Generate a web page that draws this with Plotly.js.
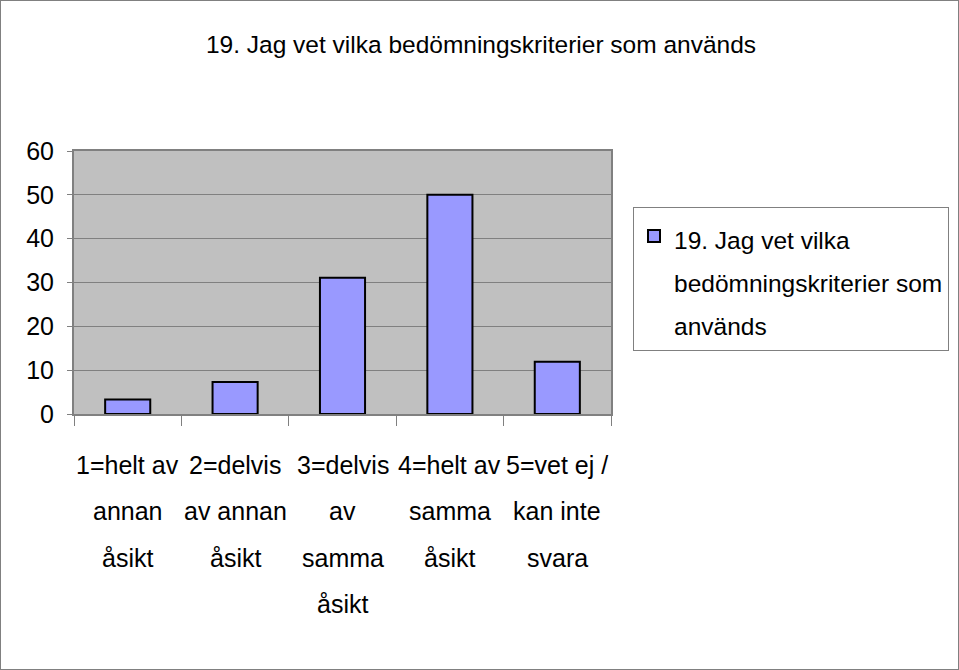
<!DOCTYPE html>
<html>
<head>
<meta charset="utf-8">
<script src="https://cdn.plot.ly/plotly-3.0.1.min.js"></script>
<style>
html,body{margin:0;padding:0;background:#fff;}
#wrap{position:relative;width:959px;height:670px;}
#chart{width:959px;height:670px;}
#frame{position:absolute;left:0;top:0;width:957px;height:668px;border:1px solid #808080;pointer-events:none;}
</style>
</head>
<body>
<div id="wrap"><div id="chart"></div><div id="frame"></div></div>
<script>
const chartTitle = "19. Jag vet vilka bedömningskriterier som används";
const seriesLines = ["19. Jag vet vilka", "bedömningskriterier som", "används"];
const categories = [
  "1=helt av<br>annan<br>åsikt",
  "2=delvis<br>av annan<br>åsikt",
  "3=delvis<br>av<br>samma<br>åsikt",
  "4=helt av<br>samma<br>åsikt",
  "5=vet ej /<br>kan inte<br>svara"
];
const values = [3.3, 7.3, 31.1, 50, 11.9];
const yTicks = [0, 10, 20, 30, 40, 50, 60];

const FONT = "'Liberation Sans', Arial, sans-serif";
const FS = 25;

const annotations = [];
categories.forEach(function(c){
  c.split("<br>").forEach(function(line, i){
    annotations.push({
      x: c, y: 0, xref: "x", yref: "y",
      text: line, showarrow: false,
      xanchor: "center", yanchor: "middle",
      yshift: -51 - i*46.3,
      font: {family: FONT, size: FS, color: "#000"}
    });
  });
});

const legendName = seriesLines.map(function(s){
  return '<span style="font-size:24.5px">' + s + '</span>';
}).join("<br>");

const data = [{
  type: "bar",
  x: categories,
  y: values,
  name: legendName,
  marker: {color: "#9999FF", line: {color: "#000", width: 2}},
  showlegend: true
}];

const layout = {
  width: 959, height: 670,
  margin: {l: 74, r: 348, t: 151, b: 256},
  paper_bgcolor: "#fff",
  plot_bgcolor: "#C0C0C0",
  font: {family: FONT, size: FS, color: "#000"},
  title: {
    text: chartTitle,
    font: {family: FONT, size: 24.5, color: "#000"},
    x: 481/959, xref: "container", xanchor: "center",
    y: 1 - 44/670, yref: "container", yanchor: "middle"
  },
  bargap: 0.58,
  xaxis: {
    type: "category",
    showticklabels: false,
    tickson: "boundaries",
    ticks: "outside", ticklen: 10, tickcolor: "#808080", tickwidth: 1,
    showline: true, linecolor: "#808080", linewidth: 2, mirror: true,
    showgrid: false, zeroline: false, fixedrange: true
  },
  yaxis: {
    range: [0, 60],
    tickvals: yTicks,
    ticktext: yTicks.map(String),
    ticks: "outside", ticklen: 5, tickcolor: "#808080", tickwidth: 1,
    ticklabelstandoff: 8,
    showline: true, linecolor: "#808080", linewidth: 2, mirror: true,
    showgrid: true, gridcolor: "#808080", gridwidth: 1,
    zeroline: false, fixedrange: true,
    tickfont: {family: FONT, size: FS, color: "#000"}
  },
  legend: {
    xref: "container", yref: "container",
    x: 633/959, xanchor: "left",
    y: 1 - 207/670, yanchor: "top",
    valign: "top",
    bgcolor: "#fff", bordercolor: "#808080", borderwidth: 1,
    font: {family: FONT, size: 33, color: "#000"},
    itemwidth: 30
  },
  annotations: annotations
};

Plotly.newPlot("chart", data, layout, {staticPlot: true, displayModeBar: false});
</script>
</body>
</html>
